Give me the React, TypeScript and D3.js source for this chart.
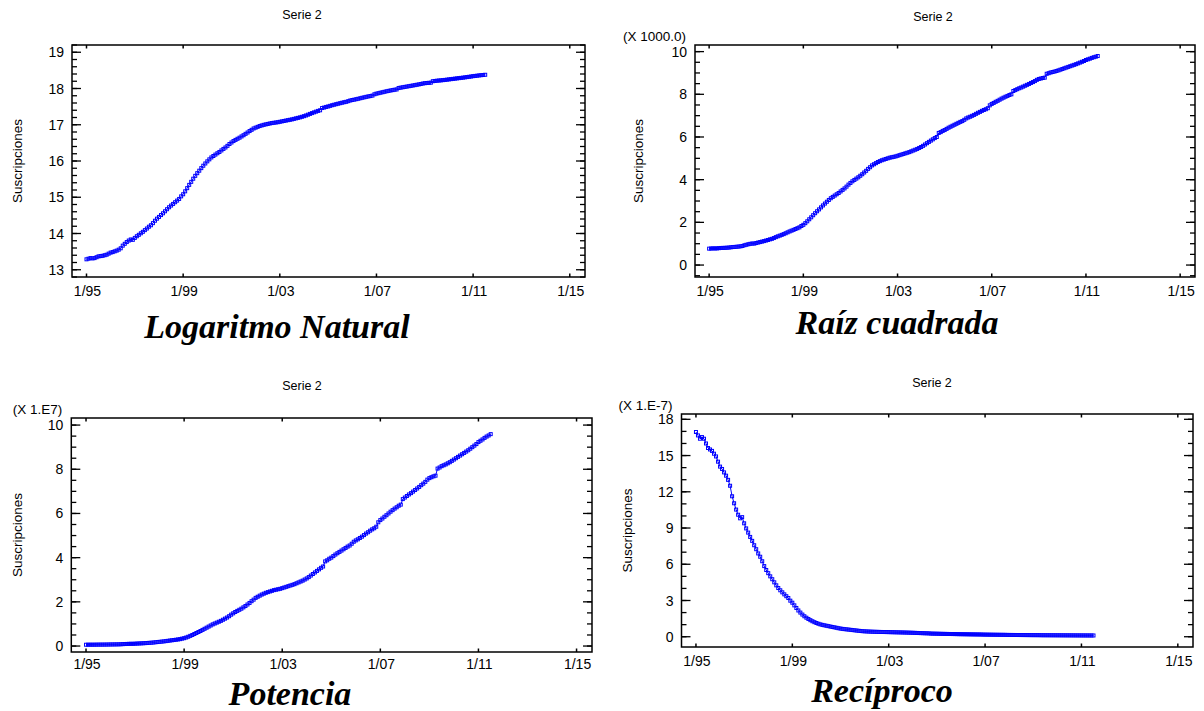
import React from "react";
import * as d3 from "d3";

const W = 1204;
const H = 711;

// x axis ticks (January of each year)
const xTickYears = [1995, 1999, 2003, 2007, 2011, 2015];
const xTickLabels = ["1/95", "1/99", "1/03", "1/07", "1/11", "1/15"];

// Monthly subscriptions (millions), January 1995 onward
const firstYear = 1995;
const subs1995 = [0.59, 0.6, 0.61, 0.605, 0.61, 0.625, 0.64, 0.645, 0.65, 0.66, 0.67, 0.69];
const subs1996 = [0.71, 0.72, 0.735, 0.75, 0.77, 0.8, 0.86, 0.905, 0.95, 0.99, 1.02, 1.01];
const subs1997 = [1.065, 1.115, 1.16, 1.21, 1.26, 1.32, 1.38, 1.45, 1.51, 1.6, 1.71, 1.81];
const subs1998 = [1.9, 2.0, 2.1, 2.22, 2.35, 2.48, 2.6, 2.72, 2.85, 2.98, 3.12, 3.35];
const subs1999 = [3.55, 3.85, 4.2, 4.6, 5.0, 5.45, 5.9, 6.35, 6.8, 7.3, 7.8, 8.3];
const subs2000 = [8.8, 9.3, 9.8, 10.2, 10.6, 11.0, 11.4, 11.9, 12.4, 12.9, 13.5, 14.2];
const subs2001 = [14.8, 15.4, 15.9, 16.4, 16.9, 17.5, 18.1, 18.8, 19.5, 20.3, 21.0, 21.8];
const subs2002 = [22.3, 22.8, 23.3, 23.7, 24.1, 24.4, 24.7, 25.0, 25.3, 25.5, 25.7, 25.9];
const subs2003 = [26.2, 26.5, 26.8, 27.1, 27.4, 27.7, 28.0, 28.4, 28.8, 29.2, 29.6, 30.1];
const subs2004 = [30.6, 31.2, 31.9, 32.6, 33.3, 34.0, 34.7, 35.4, 36.0, 38.3, 38.8, 39.5];
const subs2005 = [40.0, 40.7, 41.4, 42.0, 42.6, 43.2, 43.8, 44.4, 45.0, 45.5, 46.3, 47.2];
const subs2006 = [47.8, 48.3, 48.9, 49.5, 50.2, 50.9, 51.5, 52.2, 52.8, 53.3, 54.0, 56.0];
const subs2007 = [57.0, 57.7, 58.5, 59.2, 60.0, 60.8, 61.5, 62.2, 62.8, 63.5, 64.0, 66.5];
const subs2008 = [67.2, 67.9, 68.6, 69.2, 69.9, 70.6, 71.3, 72.0, 72.8, 73.5, 74.3, 75.3];
const subs2009 = [76.0, 76.4, 76.8, 77.1, 80.3, 80.8, 81.4, 81.8, 82.2, 82.7, 83.2, 83.8];
const subs2010 = [84.4, 85.0, 85.6, 86.2, 86.8, 87.4, 88.0, 88.6, 89.3, 90.0, 90.7, 91.4];
const subs2011 = [92.3, 92.9, 93.5, 94.2, 94.8, 95.3, 95.9];

const suscripciones = [
  ...subs1995, ...subs1996, ...subs1997, ...subs1998, ...subs1999, ...subs2000,
  ...subs2001, ...subs2002, ...subs2003, ...subs2004, ...subs2005, ...subs2006,
  ...subs2007, ...subs2008, ...subs2009, ...subs2010, ...subs2011,
].map((m) => m * 1e6);

// y axis ticks per panel
const lnTicks = [13, 14, 15, 16, 17, 18, 19];
const sqrtTicks = [0, 2, 4, 6, 8, 10];
const powTicks = [0, 2, 4, 6, 8, 10];
const recTicks = [0, 3, 6, 9, 12, 15, 18];

const serieTitle = "Serie 2";
const yLabel = "Suscripciones";

const X_DOMAIN: [number, number] = [1994.4, 2015.63];

type Panel = {
  title: string;
  left: number; right: number; top: number; bottom: number;
  yDomain: [number, number];
  majors: number[];
  minorStep: number;
  multiplier: string | null;
  f: (v: number) => number;
  serieX: number; serieY: number;
  ylabX: number;
  xLabelGap: number;
  titleX: number; titleY: number;
};

const panels: Panel[] = [
  {
    title: "Logaritmo Natural",
    left: 72, right: 585, top: 45, bottom: 277,
    yDomain: [12.8, 19.2], majors: lnTicks, minorStep: 0.2, multiplier: null,
    f: (v) => Math.log(v),
    serieX: 302, serieY: 19, ylabX: 22, xLabelGap: 19, titleX: 277, titleY: 338,
  },
  {
    title: "Raíz cuadrada",
    left: 695, right: 1195, top: 45, bottom: 277,
    yDomain: [-0.56, 10.31], majors: sqrtTicks, minorStep: 0.5, multiplier: "(X 1000.0)",
    f: (v) => Math.sqrt(v) / 1000,
    serieX: 933, serieY: 21, ylabX: 643, xLabelGap: 19, titleX: 897, titleY: 334,
  },
  {
    title: "Potencia",
    left: 71.3, right: 592, top: 418, bottom: 652,
    yDomain: [-0.27, 10.32], majors: powTicks, minorStep: 0.5, multiplier: "(X 1.E7)",
    f: (v) => v / 1e7,
    serieX: 302, serieY: 390, ylabX: 22, xLabelGap: 17, titleX: 290, titleY: 705,
  },
  {
    title: "Recíproco",
    left: 681.5, right: 1193, top: 414, bottom: 647,
    yDomain: [-0.85, 18.44], majors: recTicks, minorStep: 1, multiplier: "(X 1.E-7)",
    f: (v) => 1e7 / v,
    serieX: 932, serieY: 387, ylabX: 632, xLabelGap: 19, titleX: 882, titleY: 702,
  },
];

const SANS = "'Liberation Sans', Arial, Helvetica, sans-serif";
const SERIF = "'Liberation Serif', 'Times New Roman', serif";
const BLUE = "#0000ff";

function ChartPanel({ p }: { p: Panel }) {
  const x = d3.scaleLinear().domain(X_DOMAIN).range([p.left, p.right]);
  const y = d3.scaleLinear().domain(p.yDomain).range([p.bottom, p.top]);
  const pts = suscripciones.map((v, i) => ({ t: firstYear + i / 12, v: p.f(v) }));
  const line = d3.line<{ t: number; v: number }>().x((d) => x(d.t)).y((d) => y(d.v));
  const minorStart = Math.ceil(p.yDomain[0] / p.minorStep - 1e-9);
  const minorEnd = Math.floor(p.yDomain[1] / p.minorStep + 1e-9);
  const minors = d3.range(minorStart, minorEnd + 1).map((k) => +(k * p.minorStep).toFixed(6));
  const cy = (p.top + p.bottom) / 2;
  return (
    <g>
      <text x={p.serieX} y={p.serieY} textAnchor="middle" fontFamily={SANS} fontSize={12.5} fill="#000">
        {serieTitle}
      </text>
      {p.multiplier && (
        <text x={p.left - 9} y={p.top - 4} textAnchor="end" fontFamily={SANS} fontSize={13.5} fill="#000">
          {p.multiplier}
        </text>
      )}
      <text
        transform={`translate(${p.ylabX},${cy}) rotate(-90)`}
        textAnchor="middle" fontFamily={SANS} fontSize={13.5} fill="#000"
      >
        {yLabel}
      </text>
      <path d={line(pts) || ""} fill="none" stroke={BLUE} strokeWidth={1} />
      {pts.map((d, i) => (
        <rect key={i} x={x(d.t) - 1.5} y={y(d.v) - 1.5} width={3} height={3}
          fill="none" stroke={BLUE} strokeWidth={1} />
      ))}
      {/* minor y ticks */}
      {minors.map((m, i) => (
        <g key={"mn" + i}>
          <line x1={p.left} x2={p.left + 5} y1={y(m)} y2={y(m)} stroke="#000" strokeWidth={1.3} />
          <line x1={p.right} x2={p.right - 5} y1={y(m)} y2={y(m)} stroke="#000" strokeWidth={1.3} />
        </g>
      ))}
      {/* major y ticks + labels */}
      {p.majors.map((m, i) => (
        <g key={"mj" + i}>
          <line x1={p.left} x2={p.left + 9} y1={y(m)} y2={y(m)} stroke="#000" strokeWidth={1.3} />
          <line x1={p.right} x2={p.right - 9} y1={y(m)} y2={y(m)} stroke="#000" strokeWidth={1.3} />
          <text x={p.left - 8} y={y(m)} dy="0.36em" textAnchor="end" fontFamily={SANS} fontSize={14} fill="#000">
            {String(m)}
          </text>
        </g>
      ))}
      {/* x ticks + labels */}
      {xTickYears.map((yr, i) => (
        <g key={"x" + i}>
          <line x1={x(yr)} x2={x(yr)} y1={p.bottom} y2={p.bottom - 3.5} stroke="#000" strokeWidth={1.5} />
          <line x1={x(yr)} x2={x(yr)} y1={p.top} y2={p.top + 3.5} stroke="#000" strokeWidth={1.5} />
          <text x={x(yr) + 1} y={p.bottom + p.xLabelGap} textAnchor="middle" fontFamily={SANS} fontSize={14} fill="#000">
            {xTickLabels[i]}
          </text>
        </g>
      ))}
      <rect x={p.left} y={p.top} width={p.right - p.left} height={p.bottom - p.top}
        fill="none" stroke="#000" strokeWidth={1.5} />
      <text x={p.titleX} y={p.titleY} textAnchor="middle" fontFamily={SERIF} fontWeight="bold"
        fontStyle="italic" fontSize={34} fill="#000">
        {p.title}
      </text>
    </g>
  );
}

export default function App() {
  return (
    <svg width={W} height={H} viewBox={`0 0 ${W} ${H}`}
      style={{ position: "absolute", left: 0, top: 0, background: "#fff" }}>
      <rect x={0} y={0} width={W} height={H} fill="#fff" />
      {panels.map((p, i) => (
        <ChartPanel key={i} p={p} />
      ))}
    </svg>
  );
}
